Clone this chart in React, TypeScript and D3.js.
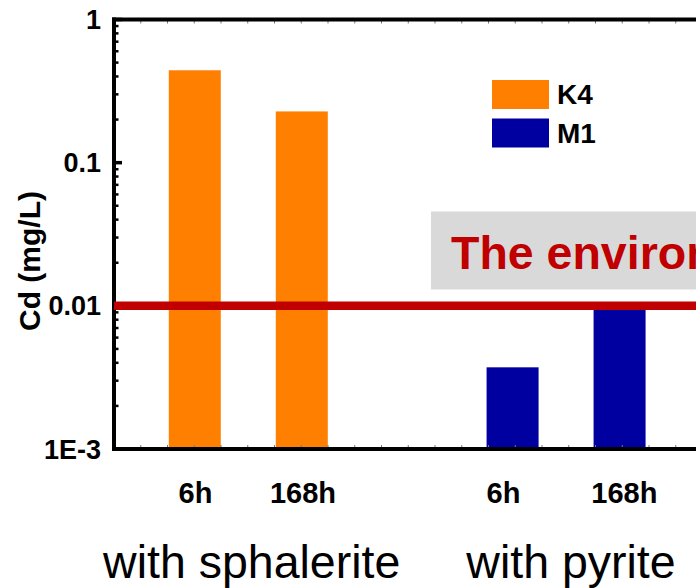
import React from "react";
import * as d3 from "d3";

// ---- data ----
const timeLabels = ["6h", "168h", "6h", "168h"];
const timeLabelX = [1.012, 2.016, 3.89, 5.02];
const groupLabels = ["with sphalerite", "with pyrite"];
const groupLabelX = [1.537, 4.521];
const seriesNames = ["K4", "M1"];
const k4X = [1.005, 2.005];
const k4Values = [0.442, 0.228];
const m1X = [3.975, 4.975];
const m1Values = [0.00372, 0.0098];
const yTickValues = [1, 0.1, 0.01, 0.001];
const yTickLabels = ["1", "0.1", "0.01", "1E-3"];
const standardValue = 0.01;
const standardText = "The environmental standard";
const yAxisTitle = "Cd (mg/L)";

const W = 696;
const H = 588;
const FONT = "Arial, 'Liberation Sans', Helvetica, sans-serif";
const ORANGE = "#ff8000";
const BLUE = "#0000a0";
const RED = "#c00000";

export default function App() {
  const x = d3.scaleLinear().domain([0.25, 5.75]).range([114, 702.5]);
  const y = d3.scaleLog().domain([0.001, 1]).range([449, 19.5]);
  const barW = x(0.25 + 0.486) - x(0.25);
  const left = x(0.25);
  const right = x(5.75);
  const top = y(1);
  const bottom = y(0.001);

  const xMinor = d3.range(0.5, 5.75, 0.25);
  const yMinor: number[] = [];
  [0.001, 0.01, 0.1].forEach((d) => {
    for (let k = 2; k <= 9; k++) yMinor.push(d * k);
  });

  return (
    <svg
      width={W}
      height={H}
      style={{ position: "absolute", left: 0, top: 0, overflow: "hidden", background: "#fff" }}
      fontFamily={FONT}
    >
      <rect x={0} y={0} width={W} height={H} fill="#fff" />
      {/* bars */}
      {k4Values.map((v, i) => (
        <rect key={"k" + i} x={x(k4X[i]) - barW / 2} y={y(v)} width={barW} height={bottom - y(v)} fill={ORANGE} />
      ))}
      {m1Values.map((v, i) => (
        <rect key={"m" + i} x={x(m1X[i]) - barW / 2} y={y(v)} width={barW} height={bottom - y(v)} fill={BLUE} />
      ))}

      {/* minor x ticks top & bottom */}
      {xMinor.map((t) => (
        <g key={"xt" + t}>
          <line x1={x(t)} x2={x(t)} y1={top} y2={top + 4} stroke="#777" strokeWidth={1} />
          <line x1={x(t)} x2={x(t)} y1={bottom} y2={bottom - 4} stroke="#777" strokeWidth={1} />
        </g>
      ))}

      {/* y ticks */}
      {yMinor.map((t) => (
        <line key={"ym" + t} x1={left} x2={left + 4.5} y1={y(t)} y2={y(t)} stroke="#000" strokeWidth={2.5} />
      ))}
      {yTickValues.map((t) => (
        <line key={"yM" + t} x1={left} x2={left + 8} y1={y(t)} y2={y(t)} stroke="#000" strokeWidth={3.5} />
      ))}
      {yTickValues.map((t, i) => (
        <text key={"yl" + t} x={101} y={y(t) + 9.5} textAnchor="end" fontSize={27} fontWeight="bold" fill="#000">
          {yTickLabels[i]}
        </text>
      ))}

      {/* axes frame */}
      <line x1={left - 2} x2={right} y1={top} y2={top} stroke="#000" strokeWidth={4} />
      <line x1={left - 2} x2={right} y1={bottom} y2={bottom} stroke="#000" strokeWidth={4} />
      <line x1={left} x2={left} y1={top - 2} y2={bottom + 2} stroke="#000" strokeWidth={4} />

      {/* y axis title */}
      <text
        transform={`translate(40,${261}) rotate(-90)`}
        textAnchor="middle"
        fontSize={30}
        fontWeight="bold"
        fill="#000"
      >
        {yAxisTitle}
      </text>

      {/* legend */}
      {seriesNames.map((s, i) => (
        <g key={s}>
          <rect x={492} y={80 + i * 38.5} width={57} height={29} fill={i === 0 ? ORANGE : BLUE} />
          <text x={557} y={103.5 + i * 39} fontSize={28} fontWeight="bold" fill="#000">
            {s}
          </text>
        </g>
      ))}

      {/* standard annotation */}
      <rect x={431} y={211.5} width={W} height={78} fill="#d9d9d9" />
      <text x={451} y={268.5} fontSize={46.5} fontWeight="bold" fill={RED}>
        {standardText}
      </text>
      <line x1={left} x2={right} y1={y(standardValue)} y2={y(standardValue)} stroke={RED} strokeWidth={8.5} />

      {/* x labels */}
      {timeLabels.map((t, i) => (
        <text key={"tl" + i} x={x(timeLabelX[i])} y={503} textAnchor="middle" fontSize={29} fontWeight="bold" fill="#000">
          {t}
        </text>
      ))}
      {groupLabels.map((g, i) => (
        <text key={"gl" + i} x={x(groupLabelX[i])} y={578} textAnchor="middle" fontSize={46.5} fill="#000">
          {g}
        </text>
      ))}
    </svg>
  );
}
